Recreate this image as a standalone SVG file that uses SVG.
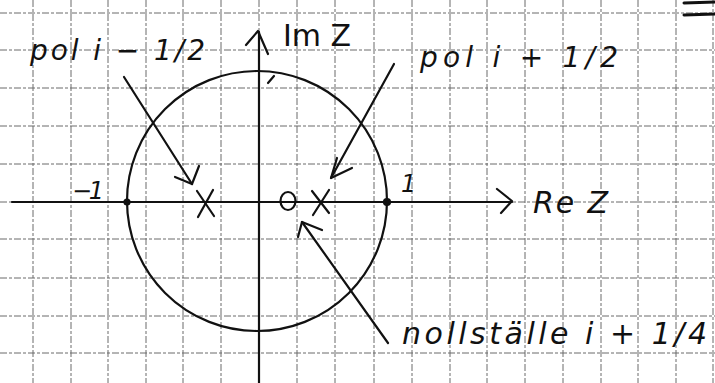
<svg xmlns="http://www.w3.org/2000/svg" width="715" height="383" viewBox="0 0 715 383">
<style>
.grid line{stroke:#6a6a6a;stroke-width:1;stroke-dasharray:7 2 3 2}
.ink{stroke:#111;stroke-width:2.2;fill:none;stroke-linecap:round;stroke-linejoin:round}
.txt{font-family:"DejaVu Sans","Liberation Sans",sans-serif;font-style:italic;fill:#111}
</style>
<rect width="715" height="383" fill="#fff"/>
<g class="grid" id="grid">
<line x1="33" y1="0" x2="33" y2="383"/><line x1="71" y1="0" x2="71" y2="383"/><line x1="108" y1="0" x2="108" y2="383"/><line x1="146" y1="0" x2="146" y2="383"/><line x1="183" y1="0" x2="183" y2="383"/><line x1="221" y1="0" x2="221" y2="383"/><line x1="259" y1="0" x2="259" y2="383"/><line x1="297" y1="0" x2="297" y2="383"/><line x1="335" y1="0" x2="335" y2="383"/><line x1="374" y1="0" x2="374" y2="383"/><line x1="412" y1="0" x2="412" y2="383"/><line x1="450" y1="0" x2="450" y2="383"/><line x1="487" y1="0" x2="487" y2="383"/><line x1="525" y1="0" x2="525" y2="383"/><line x1="563" y1="0" x2="563" y2="383"/><line x1="601" y1="0" x2="601" y2="383"/><line x1="638" y1="0" x2="638" y2="383"/><line x1="676" y1="0" x2="676" y2="383"/><line x1="713" y1="0" x2="713" y2="383"/>
<line x1="0" y1="13" x2="715" y2="13"/><line x1="0" y1="50" x2="715" y2="50"/><line x1="0" y1="88" x2="715" y2="88"/><line x1="0" y1="126" x2="715" y2="126"/><line x1="0" y1="164" x2="715" y2="164"/><line x1="0" y1="202" x2="715" y2="202"/><line x1="0" y1="239" x2="715" y2="239"/><line x1="0" y1="278" x2="715" y2="278"/><line x1="0" y1="316" x2="715" y2="316"/><line x1="0" y1="353" x2="715" y2="353"/>
</g>
<g id="corner-mark" class="ink"><line x1="684" y1="3" x2="715" y2="2" stroke-width="3"/><line x1="684" y1="15" x2="715" y2="14" stroke-width="3"/></g>
<g id="real-axis" class="ink"><line x1="12" y1="202" x2="512" y2="202"/><polyline points="497,189 512,201 501,213"/></g>
<g id="imag-axis" class="ink"><line x1="259" y1="383" x2="259" y2="32"/><polyline points="246,45 258,31 268,54"/></g>
<g id="unit-circle" class="ink"><circle cx="257" cy="201" r="130"/><circle cx="127" cy="202" r="2.5" fill="#111"/><circle cx="387" cy="202" r="3" fill="#111"/><line x1="268" y1="83" x2="274" y2="76"/></g>
<g id="pole-left" class="ink"><line x1="197" y1="191" x2="214" y2="216"/><line x1="213" y1="190" x2="198" y2="217"/></g>
<g id="pole-right" class="ink"><line x1="312" y1="191" x2="329" y2="213"/><line x1="329" y1="190" x2="313" y2="215"/></g>
<g id="zero" class="ink"><ellipse cx="288" cy="201" rx="7.5" ry="9"/></g>
<g id="connectors" class="ink">
<line x1="124" y1="77" x2="192" y2="184"/><polyline points="175,177 192,184 199,166"/>
<line x1="394" y1="64" x2="331" y2="178"/><polyline points="337,158 331,178 352,168"/>
<line x1="388" y1="343" x2="302" y2="222"/><polyline points="298,237 302,222 322,230"/>
</g>
<g id="labels" class="txt">
<text x="30" y="60" font-size="28" textLength="175" lengthAdjust="spacing">pol i − 1/2</text>
<text x="283" y="46" font-size="30" font-style="normal" textLength="68" lengthAdjust="spacing">Im Z</text>
<text x="420" y="67" font-size="28" textLength="198" lengthAdjust="spacing">pol i + 1/2</text>
<text x="533" y="213" font-size="30" textLength="75" lengthAdjust="spacing">Re Z</text>
<text x="72" y="199" font-size="24" textLength="32" lengthAdjust="spacing">−1</text>
<text x="401" y="192" font-size="24">1</text>
<text x="402" y="344" font-size="30" textLength="305" lengthAdjust="spacing">nollställe i + 1/4</text>
</g>
</svg>
